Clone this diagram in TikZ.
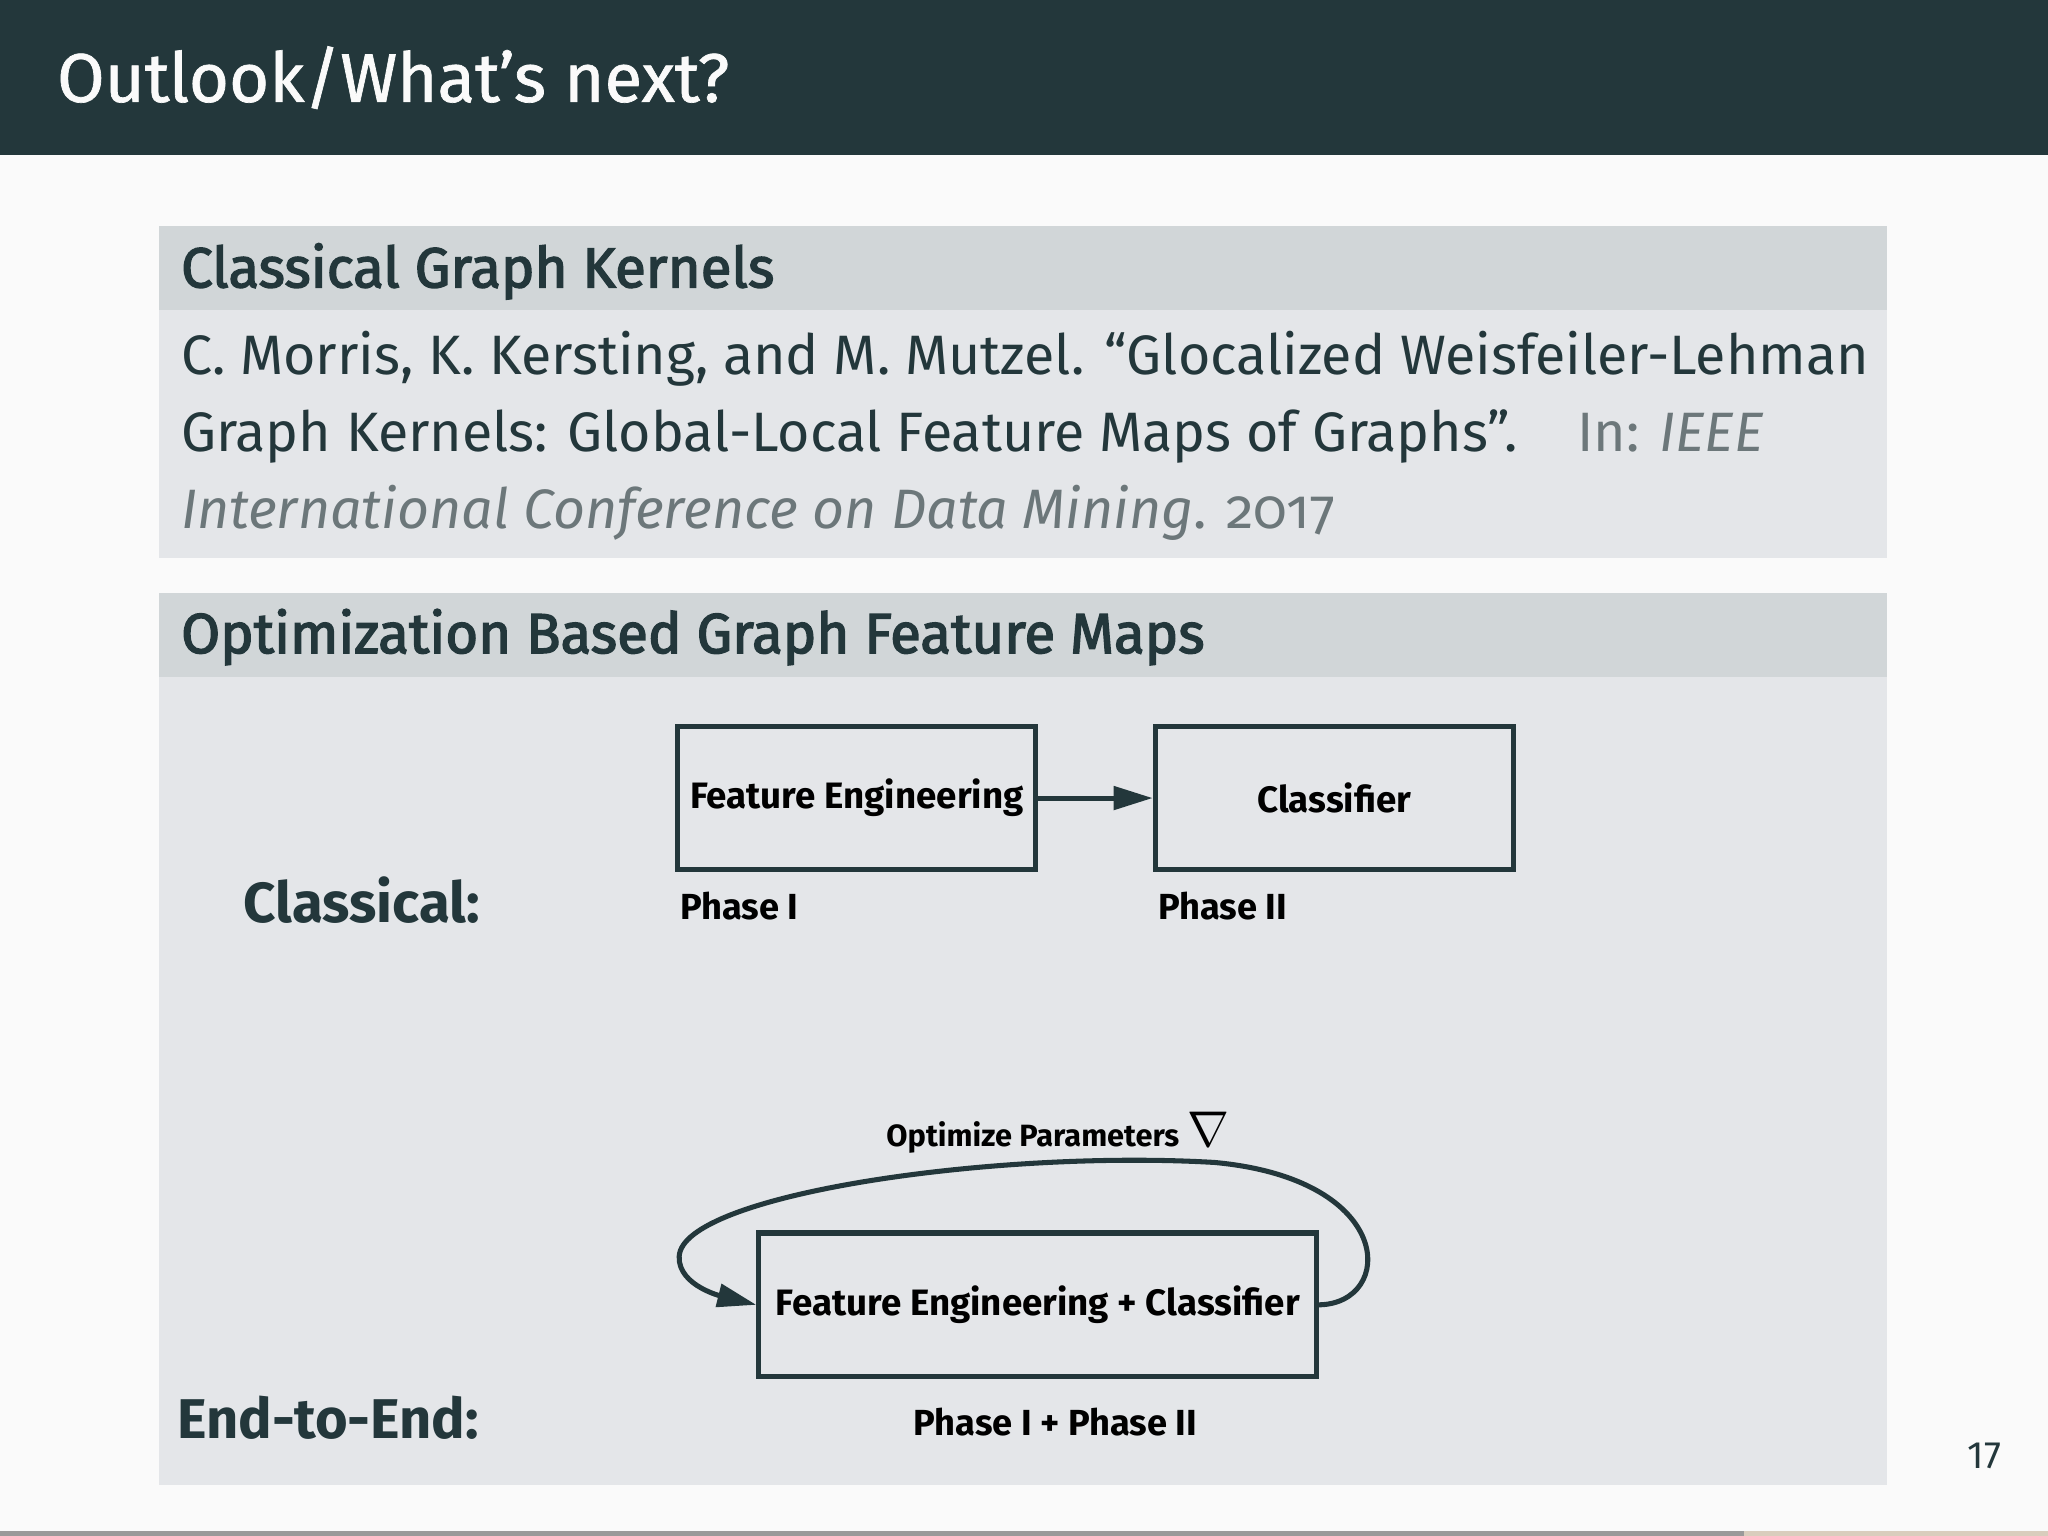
\documentclass[tikz,border=0pt]{standalone}
\usepackage{fontspec}
\setmainfont{Fira Sans}
\newfontfamily\firamed[FakeBold=2.5]{Fira Sans}
\newfontfamily\firatitle[FakeBold=1]{Fira Sans}
\usetikzlibrary{arrows.meta}
\definecolor{mteal}{HTML}{23373B}
\definecolor{bgc}{HTML}{FAFAFA}
\definecolor{blocktitle}{HTML}{D1D6D8}
\definecolor{blockbody}{HTML}{E4E6E9}
\definecolor{citegray}{HTML}{6C777A}
\definecolor{progress}{HTML}{9A9A9A}
\definecolor{progressrest}{HTML}{D9CDBD}
\tikzset{
  txt/.style={anchor=base west, inner sep=0pt, text=mteal},
  stagebox/.style={draw=mteal, line width=1.1pt, inner sep=0pt, minimum height=11mm, text=black, font=\fontsize{8}{10}\selectfont\bfseries},
  smalllbl/.style={anchor=base west, inner sep=0pt, text=black, font=\fontsize{7.9}{10}\selectfont\bfseries},
  conn/.style={draw=mteal, line width=1.1pt, -{Triangle[length=8.5pt,width=5pt]}},
}
\begin{document}
\begin{tikzpicture}[x=0.1mm,y=-0.1mm]
\useasboundingbox (0,0) rectangle (1568,1176);
\fill[bgc] (0,0) rectangle (1568,1176);
% header
\fill[mteal] (0,0) rectangle (1568,119);
\node[txt, text=bgc, font=\fontsize{15}{18}\firatitle] (title) at (43,78) {Outlook/What’s next?};
% block 1
\fill[blocktitle] (122,173) rectangle (1445,237);
\fill[blockbody] (122,237) rectangle (1445,427);
\node[txt, font=\fontsize{12.3}{15}\firamed] (b1t) at (138,220) {Classical Graph Kernels};
\node[txt, font=\fontsize{12.1}{15}\selectfont] (l1) at (138,287) {C. Morris, K. Kersting, and M. Mutzel. “Glocalized Weisfeiler-Lehman};
\node[txt, font=\fontsize{12.1}{15}\selectfont] (l2) at (138,346) {Graph Kernels: Global-Local Feature Maps of Graphs”.};
\node[txt, text=citegray, font=\fontsize{12.1}{15}\selectfont] (l2b) at (1207,346) {In: \itshape IEEE};
\node[txt, text=citegray, font=\fontsize{12.1}{15}\selectfont] (l3) at (138,405) {\itshape International Conference on Data Mining\upshape. \addfontfeatures{Numbers=OldStyle}2017};
% block 2
\fill[blocktitle] (122,454) rectangle (1445,518);
\fill[blockbody] (122,518) rectangle (1445,1137);
\node[txt, font=\fontsize{12.3}{15}\firamed] (b2t) at (138,500) {Optimization Based Graph Feature Maps};
\node[txt, font=\fontsize{12.3}{15}\selectfont\bfseries] (classical) at (186,706) {Classical:};
\node[txt, font=\fontsize{12.2}{15}\selectfont\bfseries] (e2e) at (135,1101) {End-to-End:};
% classical pipeline
\node[stagebox, minimum width=27.4mm] (fe) at (656,611) {Feature Engineering};
\node[stagebox, minimum width=27.4mm] (cl) at (1021.5,611) {Classifier};
\draw[conn] (fe.east) -- (cl.west);
\node[smalllbl] (p1) at (520,704) {Phase I};
\node[smalllbl] (p2) at (886,704) {Phase II};
% end-to-end
\node[stagebox, minimum width=42.7mm] (fec) at (794.5,999) {Feature Engineering + Classifier};
\node[smalllbl, font=\fontsize{6.7}{9}\selectfont\bfseries] (opt) at (678,878) {Optimize Parameters};
\node[anchor=base west, inner sep=0pt, xshift=0.45mm, font=\fontsize{11}{13}\selectfont] (nab) at (opt.base east) {$\nabla$};
\node[anchor=base, inner sep=0pt, text=black, font=\fontsize{7.9}{10}\selectfont\bfseries] (p12) at (808,1099) {Phase I + Phase II};
\draw[conn] (fec.east) .. controls (1068,998) and (1070,903) .. (930,890)
  .. controls (760,880) and (522,915) .. (520,962)
  .. controls (519,985) and (555,993) .. (fec.west);
% page number
\node[anchor=base east, inner sep=0pt, text=mteal, font=\fontsize{8.3}{10}\selectfont] (pg) at (1533,1124) {17};
% progress bar
\fill[progress] (0,1172) rectangle (1335,1176);
\fill[progressrest] (1335,1172) rectangle (1568,1176);
\end{tikzpicture}
\end{document}
